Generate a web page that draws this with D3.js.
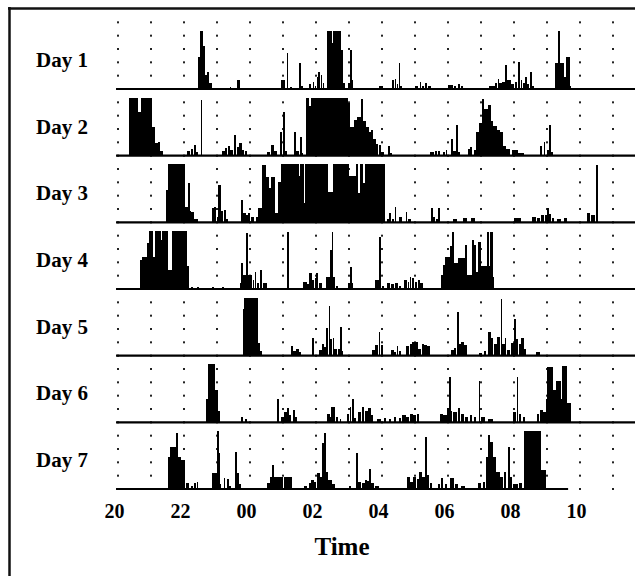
<!DOCTYPE html>
<html>
<head>
<meta charset="utf-8">
<script src="https://d3js.org/d3.v7.min.js"></script>
<style>
  body { margin: 0; background: #fff; }
  svg { display: block; }
  text { font-family: "Liberation Serif", "Times New Roman", serif; font-weight: bold; fill: #000; }
</style>
</head>
<body>
<div class="container"></div>
<script>
// activity bouts per day: [start, end, level]
// start/end = hours after 20:00, level = % of max count
var days = ["Day 1", "Day 2", "Day 3", "Day 4", "Day 5", "Day 6", "Day 7"];
var recEnd = [15.7, 15.7, 15.7, 15.7, 15.7, 15.7, 13.64];
var tickHours = [0, 2, 4, 6, 8, 10, 12, 14];
var gridHours = d3.range(0, 16);

var day1 = [[2.42,2.47,55],[2.47,2.55,100],[2.55,2.62,75],[2.62,2.7,25],[2.7,2.74,30],[2.74,2.85,10],
  [3.38,3.42,4],[3.6,3.68,15],[4.95,5.05,15],[5.11,5.15,62],[5.2,5.25,3],[5.48,5.52,45],[5.52,5.6,6],
  [5.8,5.85,8],[5.9,5.94,12],[5.96,6.0,5],[6.02,6.06,20],[6.06,6.12,30],[6.14,6.18,25],[6.2,6.24,10],
  [6.33,6.48,100],[6.48,6.51,80],[6.51,6.76,100],[6.76,6.82,67],[6.82,6.86,10],
  [6.97,7.02,10],[7.04,7.08,67],[7.08,7.12,15],
  [7.92,8.03,6],[8.3,8.34,15],[8.38,8.42,18],[8.44,8.47,8],[8.5,8.54,45],[8.54,8.58,5],
  [9.0,9.08,6],[9.14,9.18,12],[9.22,9.26,5],[9.3,9.35,10],[9.38,9.48,5],
  [10.0,10.15,7],[10.18,10.24,6],[10.3,10.36,8],[10.38,10.45,5],
  [11.25,11.4,6],[11.42,11.46,10],[11.5,11.54,18],[11.56,11.62,10],[11.64,11.7,12],[11.74,11.78,41],[11.8,11.9,15],
  [11.92,12.0,8],[12.02,12.08,12],[12.13,12.17,47],[12.2,12.24,15],[12.26,12.32,10],[12.34,12.38,20],[12.4,12.45,8],
  [12.48,12.52,30],[12.52,12.58,6],
  [13.25,13.34,45],[13.34,13.38,100],[13.38,13.5,45],[13.5,13.58,20],[13.58,13.67,55],[13.67,13.72,5]];

var day2 = [[0.33,0.6,100],[0.6,0.7,76],[0.7,1.03,100],[1.03,1.12,50],[1.12,1.2,22],[1.22,1.26,24],[1.26,1.36,8],
  [2.1,2.18,8],[2.2,2.26,12],[2.3,2.35,19],[2.35,2.4,6],[2.5,2.54,96],
  [3.15,3.22,8],[3.24,3.3,14],[3.33,3.37,17],[3.4,3.46,10],[3.5,3.53,20],[3.53,3.57,36],[3.6,3.66,15],[3.68,3.74,22],
  [3.76,3.82,10],[3.85,3.9,8],
  [4.5,4.6,6],[4.65,4.72,19],[4.72,4.8,8],[4.9,4.97,41],[5.0,5.05,76],[5.05,5.12,8],
  [5.34,5.38,41],[5.4,5.46,8],[5.5,5.55,33],[5.55,5.6,5],
  [5.7,5.78,100],[5.78,5.84,85],[5.84,6.4,100],[6.4,6.43,88],[6.43,6.95,100],[6.95,7.03,90],[7.03,7.15,50],
  [7.15,7.25,62],[7.25,7.35,67],[7.35,7.42,97],[7.42,7.5,60],[7.5,7.6,50],[7.6,7.66,40],[7.66,7.72,45],
  [7.72,7.8,28],[7.8,7.86,20],
  [7.92,7.96,19],[7.96,8.04,6],[8.18,8.22,16],[8.22,8.28,4],
  [9.45,9.55,7],[9.6,9.64,8],[9.7,9.75,8],[9.85,9.9,6],[9.93,9.97,9],
  [10.1,10.14,28],[10.16,10.22,8],[10.25,10.29,53],[10.3,10.35,6],
  [10.6,10.66,12],[10.68,10.72,15],[10.78,10.85,10],[10.85,10.95,40],[10.95,11.03,57],[11.03,11.08,97],
  [11.08,11.2,80],[11.2,11.28,88],[11.28,11.36,60],[11.36,11.48,52],[11.48,11.56,45],[11.56,11.66,40],
  [11.66,11.76,17],[11.76,11.88,12],[11.95,12.1,10],[12.1,12.3,5],
  [12.78,12.84,17],[12.9,12.94,24],[13.0,13.06,10],[13.07,13.11,53],[13.11,13.17,6]];

var day3 = [[1.45,1.5,55],[1.5,2.03,100],[2.03,2.12,26],[2.12,2.17,67],[2.17,2.2,20],[2.2,2.3,17],[2.3,2.4,5],
  [2.85,2.9,24],[2.92,2.97,27],[3.0,3.03,10],[3.03,3.1,64],[3.12,3.18,20],[3.2,3.26,21],[3.26,3.32,5],
  [3.73,3.77,38],[3.8,3.86,16],[3.88,3.92,12],[3.95,4.0,16],[4.02,4.1,10],
  [4.18,4.25,10],[4.25,4.34,24],[4.36,4.48,98],[4.48,4.55,78],[4.55,4.65,60],[4.65,4.75,78],[4.75,4.85,16],[4.85,4.95,70],
  [4.95,5.48,100],[5.48,5.52,80],[5.52,5.62,100],[5.62,5.66,33],[5.66,6.36,100],[6.36,6.5,52],[6.5,7.0,100],
  [7.0,7.22,80],[7.22,7.26,100],[7.26,7.34,50],[7.34,7.4,100],[7.4,7.48,67],[7.48,8.09,100],
  [8.15,8.2,6],[8.22,8.26,16],[8.3,8.35,5],[8.38,8.42,26],[8.5,8.6,10],[8.72,8.76,17],[8.8,8.86,6],
  [9.48,9.52,24],[9.56,9.6,10],[9.64,9.7,6],[9.71,9.75,24],
  [10.15,10.25,5],[10.45,10.55,8],[10.7,10.8,8],
  [12.0,12.2,7],[12.55,12.65,10],[12.7,12.78,8],[12.82,12.9,12],[12.95,13.0,12],[13.0,13.04,24],[13.06,13.12,14],
  [13.15,13.2,8],[13.3,13.4,6],[13.5,13.6,8],
  [14.2,14.3,16],[14.32,14.44,12],[14.48,14.52,98]];

var day4 = [[0.67,0.72,50],[0.74,0.88,55],[0.88,0.95,80],[0.95,1.05,100],[1.05,1.12,55],[1.12,1.28,100],
  [1.28,1.33,85],[1.33,1.49,100],[1.49,1.64,33],[1.64,2.09,100],[2.09,2.14,40],
  [2.2,2.26,4],[2.4,2.44,4],[2.85,2.9,3],[3.15,3.2,3],
  [3.7,3.73,10],[3.74,3.78,45],[3.8,3.86,24],[3.88,3.92,97],[3.92,4.05,24],[4.08,4.12,15],[4.14,4.18,29],
  [4.2,4.26,10],[4.3,4.36,33],[4.38,4.5,10],
  [5.13,5.17,98],
  [5.62,5.7,12],[5.74,5.78,8],[5.8,5.86,28],[5.88,5.94,15],[5.96,6.0,19],[6.0,6.04,28],[6.1,6.18,10],
  [6.3,6.4,21],[6.42,6.47,67],[6.47,6.51,98],[6.51,6.56,21],[6.6,6.65,5],
  [6.98,7.0,10],[7.03,7.08,38],[7.08,7.12,10],
  [7.78,7.9,16],[7.92,7.96,90],[8.0,8.05,5],
  [8.15,8.22,10],[8.28,8.34,8],[8.4,8.46,10],[8.5,8.55,6],
  [8.68,8.75,15],[8.78,8.82,12],[8.84,8.88,21],[8.9,8.96,19],[9.0,9.06,12],[9.08,9.14,16],[9.15,9.22,10],
  [9.78,9.85,24],[9.85,9.92,41],[9.92,10.05,55],[10.05,10.12,75],[10.12,10.16,98],[10.16,10.3,45],
  [10.3,10.5,53],[10.52,10.57,76],[10.57,10.7,25],[10.72,10.77,84],[10.77,10.8,35],[10.8,10.85,76],
  [10.85,10.9,30],[10.9,11.0,81],[11.0,11.17,40],[11.17,11.23,98],[11.23,11.27,40],[11.27,11.35,98],[11.35,11.39,20]];

var day5 = [[3.79,3.82,80],[3.82,4.24,100],[4.24,4.3,22],[4.3,4.36,8],
  [5.25,5.3,16],[5.3,5.38,8],[5.4,5.46,12],[5.48,5.54,7],
  [5.88,5.92,31],
  [6.1,6.16,10],[6.18,6.24,20],[6.24,6.3,15],[6.3,6.36,48],[6.38,6.42,85],[6.42,6.48,28],[6.5,6.54,31],
  [6.55,6.62,12],[6.66,6.7,12],[6.72,6.78,50],[6.78,6.82,8],
  [7.7,7.78,10],[7.8,7.86,19],[7.9,7.94,40],[7.96,8.03,19],
  [8.28,8.34,10],[8.36,8.4,6],[8.44,8.48,17],[8.5,8.55,8],
  [8.74,8.82,16],[8.84,8.9,20],[8.92,9.08,24],[9.1,9.16,12],[9.2,9.26,20],[9.28,9.34,18],[9.36,9.44,16],
  [10.1,10.16,10],[10.18,10.24,14],[10.28,10.31,76],[10.32,10.38,20],[10.4,10.46,24],[10.48,10.56,18],
  [10.95,11.02,5],[11.1,11.14,8],[11.2,11.28,40],[11.3,11.36,31],[11.4,11.46,20],[11.48,11.56,33],
  [11.6,11.63,98],[11.64,11.7,20],[11.72,11.76,31],[11.8,11.86,10],[11.9,11.98,22],[12.0,12.05,64],
  [12.05,12.12,28],[12.14,12.2,20],[12.22,12.28,30],[12.3,12.36,12],
  [12.68,12.78,7]];

var day6 = [[2.68,2.73,40],[2.73,2.94,100],[2.94,3.03,55],[3.03,3.08,20],
  [3.74,3.77,9],[3.86,3.88,5],
  [4.83,4.87,41],[4.95,5.02,9],[5.04,5.1,17],[5.12,5.16,24],[5.18,5.24,12],[5.3,5.34,21],[5.36,5.42,10],
  [6.33,6.4,14],[6.42,6.46,10],[6.46,6.55,26],[6.6,6.66,9],[6.72,6.76,5],
  [6.94,7.0,14],[7.02,7.06,26],[7.1,7.14,40],[7.16,7.2,8],[7.27,7.35,18],[7.38,7.44,26],[7.48,7.56,20],
  [7.58,7.64,24],[7.66,7.72,12],
  [7.85,7.95,6],[8.05,8.12,8],[8.2,8.26,5],[8.35,8.42,10],[8.5,8.56,7],[8.62,8.7,12],[8.74,8.8,10],
  [8.84,8.92,15],[8.95,9.02,12],[9.05,9.12,14],
  [9.76,9.84,15],[9.86,9.96,12],[9.98,10.02,24],[10.03,10.06,78],[10.06,10.12,20],[10.16,10.26,18],
  [10.3,10.36,24],[10.4,10.48,15],[10.52,10.6,10],[10.66,10.72,12],[10.78,10.84,10],[10.93,10.97,72],
  [11.0,11.1,10],[11.2,11.35,5],
  [11.98,12.06,17],[12.08,12.12,78],[12.14,12.2,15],[12.26,12.32,10],
  [12.7,12.76,15],[12.78,12.86,21],[12.88,12.96,18],[12.96,13.0,40],[13.0,13.18,95],[13.18,13.28,55],
  [13.28,13.4,72],[13.4,13.45,40],[13.45,13.6,97],[13.6,13.7,33]];

var day7 = [[1.5,1.58,55],[1.58,1.74,72],[1.76,1.8,97],[1.8,1.9,55],[1.9,2.03,50],[2.05,2.15,10],[2.2,2.26,6],
  [2.3,2.36,10],[2.38,2.42,12],
  [2.85,2.98,28],[3.0,3.04,100],[3.04,3.08,62],[3.08,3.12,8],
  [3.2,3.24,19],[3.3,3.34,18],[3.36,3.4,6],[3.56,3.59,64],[3.6,3.66,28],[3.68,3.72,8],
  [4.5,4.6,10],[4.62,4.66,20],[4.68,4.72,41],[4.74,4.8,21],[4.82,4.9,20],[4.92,5.0,21],[5.02,5.1,20],[5.12,5.27,21],
  [5.65,5.7,6],[5.78,5.84,10],[5.86,5.92,15],
  [5.94,6.0,12],[6.03,6.1,28],[6.1,6.16,20],[6.18,6.2,79],[6.2,6.25,30],[6.25,6.3,97],[6.3,6.36,30],
  [6.36,6.46,16],[6.48,6.56,8],
  [7.0,7.06,6],[7.22,7.26,62],[7.28,7.36,12],[7.4,7.46,10],[7.48,7.54,16],[7.56,7.6,14],[7.62,7.66,34],
  [7.68,7.75,10],[7.8,7.9,6],
  [8.76,8.84,21],[8.86,8.92,12],[8.95,9.02,20],[9.05,9.1,18],[9.12,9.2,29],[9.22,9.28,20],[9.3,9.36,90],
  [9.36,9.42,25],[9.44,9.5,10],
  [9.7,9.76,8],[9.8,9.84,19],[9.9,9.96,8],[10.05,10.1,19],[10.12,10.18,19],[10.2,10.3,8],[10.4,10.5,6],
  [10.9,10.98,10],[11.05,11.12,12],[11.15,11.22,55],[11.22,11.26,93],[11.26,11.34,81],[11.34,11.44,55],
  [11.46,11.56,29],[11.58,11.66,20],[11.7,11.76,29],[11.82,11.86,72],[11.86,11.94,20],[11.96,12.1,8],
  [12.14,12.22,10],
  [12.3,12.82,100],[12.82,12.95,33]];

var activity = [day1, day2, day3, day4, day5, day6, day7];

var w = 635;
var h = 576;

var svg = d3.select(".container")
    .append("svg")
    .attr("width", w)
    .attr("height", h);

// frame (top and left edges show in the scan)
svg.append("line")
    .attr("x1", 8).attr("x2", w).attr("y1", 8.5).attr("y2", 8.5)
    .attr("stroke", "#111").attr("stroke-width", 2.5);
svg.append("line")
    .attr("x1", 9.5).attr("x2", 9.5).attr("y1", 7).attr("y2", h)
    .attr("stroke", "#111").attr("stroke-width", 2.5);

var x = d3.scaleLinear()
    .domain([0, 15])
    .range([118, 613]);

var rowBase = d3.scalePoint()
    .domain(days)
    .range([89, 489]);

var y = d3.scaleLinear()
    .domain([0, 100])
    .range([0, 58]);

// dotted hour lines
var dotStep = (rowBase("Day 2") - rowBase("Day 1")) / 5;
var dotYs = d3.range(0, 36).map(function(k) { return rowBase("Day 1") - 5 * dotStep + k * dotStep; });
var dots = [];
gridHours.forEach(function(hr) {
    dotYs.forEach(function(yy) { dots.push([hr, yy]); });
});
svg.append("g")
    .selectAll("rect")
    .data(dots)
    .enter()
    .append("rect")
    .attr("x", function(d) { return x(d[0]) - 1; })
    .attr("y", function(d) { return d[1] - 1; })
    .attr("width", 2)
    .attr("height", 2)
    .attr("fill", "#222");

// rows
days.forEach(function(day, i) {
    var base = rowBase(day);
    var g = svg.append("g");

    g.selectAll("rect")
        .data(activity[i])
        .enter()
        .append("rect")
        .attr("x", function(d) { return x(d[0]); })
        .attr("width", function(d) { return Math.max(1.6, x(d[1]) - x(d[0]) + 0.4); })
        .attr("y", function(d) { return base - y(d[2]); })
        .attr("height", function(d) { return y(d[2]); })
        .attr("fill", "#000")
        .attr("shape-rendering", "crispEdges");

    g.append("line")
        .attr("x1", x(-0.06))
        .attr("x2", x(recEnd[i]))
        .attr("y1", base)
        .attr("y2", base)
        .attr("stroke", "#000")
        .attr("stroke-width", 2.2);

    g.append("text")
        .attr("x", 36)
        .attr("y", base - 22)
        .attr("font-size", "21px")
        .text(day);
});

// time axis (labels only)
var axis = d3.axisBottom(x)
    .tickValues(tickHours)
    .tickSize(0)
    .tickPadding(0)
    .tickFormat(function(t) { return d3.format("02d")((20 + t) % 24); });

var ax = svg.append("g").call(axis);
ax.select(".domain").remove();
ax.selectAll("text")
    .attr("y", 518)
    .attr("dy", 0)
    .attr("dx", -4)
    .attr("font-size", "20px")
    .attr("font-family", "Liberation Serif, serif")
    .attr("font-weight", "bold")
    .attr("fill", "#000");

svg.append("text")
    .attr("x", 342)
    .attr("y", 555)
    .attr("text-anchor", "middle")
    .attr("font-size", "25px")
    .text("Time");
</script>
</body>
</html>
